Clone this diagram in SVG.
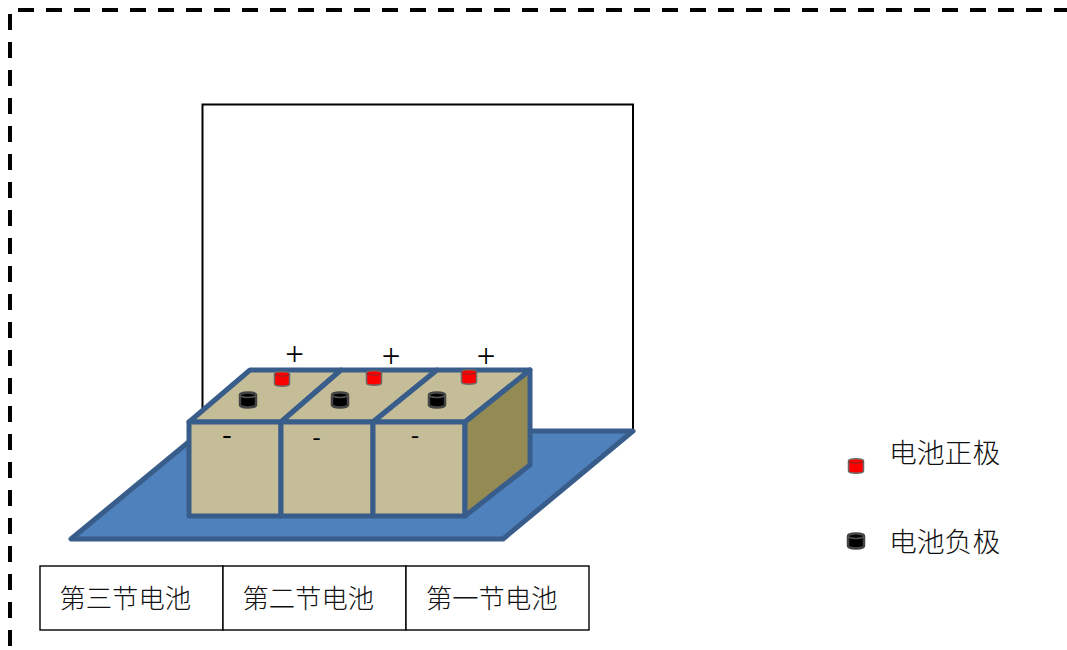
<svg xmlns="http://www.w3.org/2000/svg" width="1067" height="650" viewBox="0 0 1067 650">
<style>
text{font-family:"Noto Sans CJK SC","Noto Sans CJK JP",sans-serif;font-weight:300;fill:#111}
.cn{font-size:26.300px;text-anchor:start}
.lg{font-size:27.800px}
.sym{font-family:"Liberation Serif",serif;font-weight:400;text-anchor:middle;fill:#000}
.cell{fill:#fff;stroke:#000;stroke-width:1.400}
.box{fill:#c4bd97;stroke:#385d8a;stroke-width:5;stroke-linejoin:round}
.pos{fill:#f00;stroke:#6a6a6a;stroke-width:1.500}
.neg{fill:#000;stroke:#444;stroke-width:2.500}
</style>
<defs>
<g id="posT"><path class="pos" d="M-7.500-5V5A7.500 2.200 0 0 0 7.500 5V-5A7.500 2.200 0 0 0-7.500-5Z"/><path d="M-7.500-5A7.500 2.200 0 0 0 7.500-5" fill="none" stroke="#7a3030" stroke-width="1"/></g>
<g id="negT"><path class="neg" d="M-8-5V5A8 2.400 0 0 0 8 5V-5A8 2.400 0 0 0-8-5Z"/><path d="M-8-5A8 2.400 0 0 0 8-5" fill="none" stroke="#555" stroke-width="1.500"/></g>
</defs>
<path id="border" d="M10 14V650M18 10H1067" fill="none" stroke="#000" stroke-width="4" stroke-dasharray="16 12"/>
<g id="backboard"><rect x="202.500" y="104.500" width="430.500" height="327" fill="#fff" stroke="#000" stroke-width="2"/></g>
<g id="plate"><polygon points="71,539 503,539 633,431 202,431" fill="#4f81bd" stroke="#385d8a" stroke-width="5" stroke-linejoin="round"/></g>
<g id="battery-3">
<polygon class="box" points="189,422 250,370 341,370 281,422"/>
<rect class="box" x="189" y="422" width="92" height="94"/>
</g>
<g id="battery-2">
<polygon class="box" points="281,422 341,370 437,370 373,422"/>
<rect class="box" x="281" y="422" width="92" height="94"/>
</g>
<g id="battery-1">
<polygon class="box" points="373,422 437,370 530,370 465,422"/>
<rect class="box" x="373" y="422" width="92" height="94"/>
<polygon class="box" style="fill:#948a54" points="465,422 530,370 530,465 465,516"/>
</g>
<g id="terminals">
<use href="#posT" x="282" y="379"/>
<use href="#posT" x="374" y="378"/>
<use href="#posT" x="469" y="377"/>
<use href="#negT" x="248" y="400"/>
<use href="#negT" x="340" y="400"/>
<use href="#negT" x="437" y="400"/>
</g>
<g id="signs">
<text class="sym" x="294.500" y="365" font-size="33">+</text>
<text class="sym" x="391" y="367" font-size="33">+</text>
<text class="sym" x="486" y="367" font-size="33">+</text>
<text class="sym" x="227" y="443" font-size="28" font-weight="700">-</text>
<text class="sym" x="316.500" y="445" font-size="24" font-weight="700">-</text>
<text class="sym" x="415" y="443" font-size="24" font-weight="700">-</text>
</g>
<g id="labels">
<rect class="cell" x="40" y="566" width="183" height="64"/>
<rect class="cell" x="223" y="566" width="183" height="64"/>
<rect class="cell" x="406" y="566" width="183" height="64"/>
<text class="cn" x="59.500" y="608">第三节电池</text>
<text class="cn" x="242.500" y="608">第二节电池</text>
<text class="cn" x="426" y="608">第一节电池</text>
</g>
<g id="legend-pos"><use href="#posT" x="856" y="466"/><text class="lg" x="889" y="463">电池正极</text></g>
<g id="legend-neg"><use href="#negT" x="856" y="541"/><text class="lg" x="889" y="552">电池负极</text></g>
</svg>
